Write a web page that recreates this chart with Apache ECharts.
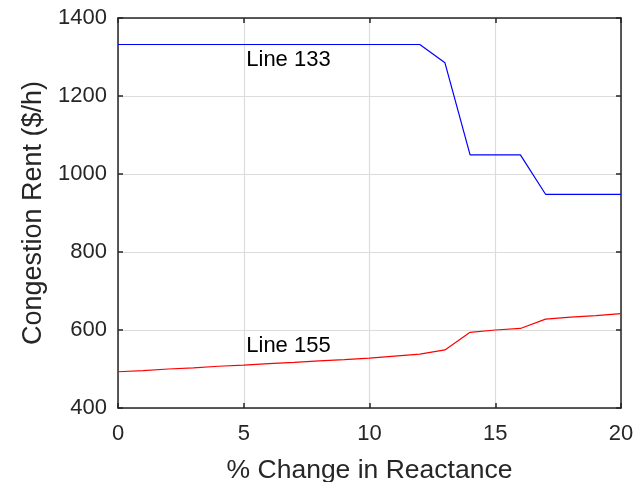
<!DOCTYPE html>
<html>
<head>
<meta charset="utf-8">
<script src="https://cdn.jsdelivr.net/npm/echarts@6/dist/echarts.min.js"></script>
<style>
  html, body { margin: 0; padding: 0; background: #fff; }
  #chart { width: 637px; height: 482px; }
</style>
</head>
<body>
<div id="chart"></div>
<script>
// % change in reactance (x) and congestion rent for two lines
const reactanceChange = [0, 1, 2, 3, 4, 5, 6, 7, 8, 9, 10, 11, 12, 13, 14, 15, 16, 17, 18, 19, 20];
const line133Rent = [1332, 1332, 1332, 1332, 1332, 1332, 1332, 1332, 1332, 1332, 1332, 1332, 1332, 1285, 1049, 1049, 1049, 948, 948, 948, 948];
const line155Rent = [493, 496, 500, 503, 507, 510, 514, 517, 521, 524, 528, 533, 538, 549, 594, 600, 604, 628, 633, 637, 642];
const xTicks = [0, 5, 10, 15, 20];
const yTicks = [400, 600, 800, 1000, 1200, 1400];

const textColor = '#262626';
const fontFamily = '"Liberation Sans", Arial, sans-serif';

const pairs = (xs, ys) => xs.map((x, i) => [x, ys[i]]);

const chart = echarts.init(document.getElementById('chart'), null, { renderer: 'canvas' });

const axisLineStyle = { show: true, onZero: false, lineStyle: { color: textColor, width: 1.5 } };
const tickStyle = { inside: true, length: 5, lineStyle: { color: textColor, width: 1.5 } };

chart.setOption({
  animation: false,
  backgroundColor: '#fff',
  grid: { left: 118, right: 16, top: 18, bottom: 74, containLabel: false, outerBoundsMode: 'none' },
  xAxis: [
    {
      type: 'value', min: 0, max: 20, interval: 5,
      name: '% Change in Reactance', nameLocation: 'middle', nameGap: 49,
      nameTextStyle: { color: textColor, fontSize: 26.5, fontFamily },
      axisLine: axisLineStyle, axisTick: tickStyle,
      axisLabel: { color: textColor, fontSize: 22, fontFamily, margin: 15,
        formatter: v => xTicks.includes(v) ? String(v) : '' },
      splitLine: { show: true, lineStyle: { color: '#dcdcdc', width: 1.2 } }
    },
    {
      type: 'value', min: 0, max: 20, interval: 5, position: 'top',
      axisLine: axisLineStyle, axisTick: tickStyle,
      axisLabel: { show: false }, splitLine: { show: false }
    }
  ],
  yAxis: [
    {
      type: 'value', min: 400, max: 1400, interval: 200,
      name: 'Congestion Rent ($/h)', nameLocation: 'middle', nameGap: 69,
      nameTextStyle: { color: textColor, fontSize: 27, fontFamily },
      axisLine: axisLineStyle, axisTick: tickStyle,
      axisLabel: { color: textColor, fontSize: 22, fontFamily, margin: 11,
        formatter: v => yTicks.includes(v) ? String(v) : '' },
      splitLine: { show: true, lineStyle: { color: '#dcdcdc', width: 1.2 } }
    },
    {
      type: 'value', min: 400, max: 1400, interval: 200, position: 'right',
      axisLine: axisLineStyle, axisTick: tickStyle,
      axisLabel: { show: false }, splitLine: { show: false }
    }
  ],
  series: [
    {
      name: 'Line 133', type: 'line', data: pairs(reactanceChange, line133Rent),
      showSymbol: false, lineStyle: { color: '#0000ff', width: 1.2 }, z: 5,
      markPoint: {
        silent: true, symbol: 'circle', symbolSize: 0,
        data: [{ coord: [5.1, 1293] }],
        label: { show: true, position: 'right', distance: 0, formatter: 'Line 133',
          color: '#000', fontSize: 22, fontFamily }
      }
    },
    {
      name: 'Line 155', type: 'line', data: pairs(reactanceChange, line155Rent),
      showSymbol: false, lineStyle: { color: '#ff0000', width: 1.2 }, z: 5,
      markPoint: {
        silent: true, symbol: 'circle', symbolSize: 0,
        data: [{ coord: [5.1, 560] }],
        label: { show: true, position: 'right', distance: 0, formatter: 'Line 155',
          color: '#000', fontSize: 22, fontFamily }
      }
    }
  ]
});
</script>
</body>
</html>
